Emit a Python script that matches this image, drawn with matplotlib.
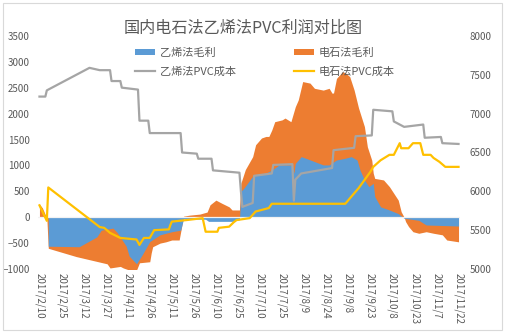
import matplotlib
matplotlib.use("Agg")
import matplotlib.pyplot as plt
import pandas as pd
from matplotlib.patches import Rectangle

plt.rcParams['font.family'] = ['Noto Sans CJK SC', 'DejaVu Sans']

# 乙烯法毛利 (left axis)
eth_profit_dates = ["2017-02-16", "2017-03-09", "2017-03-21", "2017-03-24", "2017-04-01",
                    "2017-04-04", "2017-04-10", "2017-04-12", "2017-04-17", "2017-04-21",
                    "2017-04-26", "2017-05-03", "2017-05-11", "2017-05-17", "2017-05-19",
                    "2017-06-03", "2017-06-05", "2017-06-21", "2017-06-26", "2017-06-27",
                    "2017-06-29", "2017-07-05", "2017-07-14", "2017-07-18", "2017-07-23",
                    "2017-08-01", "2017-08-02", "2017-08-03", "2017-08-07", "2017-08-10",
                    "2017-08-16", "2017-08-22", "2017-08-26", "2017-08-31", "2017-09-06",
                    "2017-09-10", "2017-09-14", "2017-09-16", "2017-09-19", "2017-09-22",
                    "2017-09-25", "2017-09-26", "2017-09-30", "2017-10-06", "2017-10-12",
                    "2017-10-16", "2017-10-26", "2017-10-31", "2017-11-22"]
eth_profit = [-560, -570, -380, -250, -210,
              -300, -560, -750, -900, -720,
              -470, -340, -280, -250, -30,
              -40, -80, -80, -50, 500,
              560, 790, 850, 910, 1010,
              1010, 850, 1040, 1170, 1140,
              1075, 1010, 1010, 1105, 1140,
              1170, 1105, 910, 720, 590,
              655, 400, 200, 140, 70,
              -20, -60, -150, -170]

# 电石法毛利 (left axis)
carb_profit_dates = ["2017-02-10", "2017-02-12", "2017-02-15", "2017-02-16", "2017-03-07",
                     "2017-03-28", "2017-03-30", "2017-04-06", "2017-04-08", "2017-04-12",
                     "2017-04-17", "2017-04-19", "2017-04-26", "2017-04-27", "2017-04-28",
                     "2017-05-03", "2017-05-07", "2017-05-11", "2017-05-16", "2017-05-19",
                     "2017-05-23", "2017-05-30", "2017-06-04", "2017-06-06", "2017-06-10",
                     "2017-06-14", "2017-06-19", "2017-06-21", "2017-06-26", "2017-06-27",
                     "2017-06-30", "2017-07-05", "2017-07-07", "2017-07-11", "2017-07-14",
                     "2017-07-16", "2017-07-18", "2017-07-20", "2017-07-25", "2017-07-27",
                     "2017-07-31", "2017-08-03", "2017-08-05", "2017-08-08", "2017-08-13",
                     "2017-08-16", "2017-08-22", "2017-08-26", "2017-08-28", "2017-08-29",
                     "2017-08-31", "2017-09-04", "2017-09-06", "2017-09-09", "2017-09-12",
                     "2017-09-15", "2017-09-19", "2017-09-21", "2017-09-24", "2017-09-25",
                     "2017-09-26", "2017-10-02", "2017-10-04", "2017-10-06", "2017-10-09",
                     "2017-10-12", "2017-10-14", "2017-10-16", "2017-10-17", "2017-10-19",
                     "2017-10-22", "2017-10-26", "2017-10-31", "2017-11-05", "2017-11-11",
                     "2017-11-14", "2017-11-22"]
carb_profit = [250, 180, -20, -600, -760,
               -900, -980, -950, -980, -1020,
               -1020, -880, -860, -690, -570,
               -500, -475, -440, -440, 20,
               40, 60, 100, 240, 330,
               270, 200, 140, 140, 660,
               920, 1170, 1400, 1530, 1560,
               1560, 1685, 1845, 1880, 1915,
               1845, 2135, 2265, 2620, 2590,
               2490, 2455, 2490, 2395, 2400,
               2680, 2810, 2790, 2715, 2455,
               2110, 1750, 1360, 1100, 850,
               750, 720, 655, 590, 460,
               330, 105, 0, -85, -180,
               -280, -310, -280, -310, -340,
               -440, -475]

# 乙烯法PVC成本 (right axis)
eth_cost_dates = ["2017-02-10", "2017-02-14", "2017-02-15", "2017-03-16", "2017-03-23",
                  "2017-03-30", "2017-03-31", "2017-04-06", "2017-04-07", "2017-04-18",
                  "2017-04-19", "2017-04-25", "2017-04-26", "2017-05-17", "2017-05-18",
                  "2017-05-28", "2017-05-29", "2017-06-07", "2017-06-08", "2017-06-26",
                  "2017-06-27", "2017-06-28", "2017-07-05", "2017-07-06", "2017-07-18",
                  "2017-07-19", "2017-08-01", "2017-08-02", "2017-08-03", "2017-08-07",
                  "2017-08-16", "2017-08-28", "2017-08-29", "2017-09-12", "2017-09-13",
                  "2017-09-24", "2017-09-25", "2017-10-08", "2017-10-09", "2017-10-16",
                  "2017-10-29", "2017-10-30", "2017-11-10", "2017-11-11", "2017-11-22"]
eth_cost = [7220, 7220, 7300, 7590, 7560,
            7560, 7420, 7420, 7335, 7310,
            6910, 6910, 6750, 6750, 6500,
            6485, 6420, 6420, 6270, 6240,
            6000, 5800, 5850, 6200, 6230,
            6340, 6350, 5880, 6150, 6230,
            6260, 6300, 6530, 6560, 6710,
            6720, 7050, 7030, 6900, 6830,
            6860, 6690, 6700, 6620, 6610]

# 电石法PVC成本 (right axis)
carb_cost_dates = ["2017-02-10", "2017-02-15", "2017-02-16", "2017-03-23", "2017-03-26",
                   "2017-03-30", "2017-04-06", "2017-04-17", "2017-04-19", "2017-04-22",
                   "2017-04-26", "2017-04-29", "2017-05-09", "2017-05-10", "2017-05-11",
                   "2017-05-21", "2017-06-01", "2017-06-03", "2017-06-11", "2017-06-12",
                   "2017-06-19", "2017-06-22", "2017-06-24", "2017-07-03", "2017-07-07",
                   "2017-07-16", "2017-07-18", "2017-09-06", "2017-09-10", "2017-09-15",
                   "2017-09-19", "2017-09-23", "2017-09-25", "2017-09-30", "2017-10-06",
                   "2017-10-09", "2017-10-13", "2017-10-14", "2017-10-19", "2017-10-22",
                   "2017-10-27", "2017-10-29", "2017-11-03", "2017-11-05", "2017-11-09",
                   "2017-11-13", "2017-11-22"]
carb_cost = [5820, 5620, 6050, 5540, 5530,
             5465, 5400, 5380, 5310, 5400,
             5400, 5500, 5510, 5565, 5610,
             5630, 5655, 5480, 5480, 5530,
             5545, 5600, 5630, 5655, 5740,
             5785, 5840, 5840, 5930, 6040,
             6145, 6250, 6315, 6400, 6470,
             6470, 6620, 6555, 6555, 6620,
             6620, 6470, 6470, 6430, 6380,
             6315, 6315]

tick_labels = ["2017/2/10", "2017/2/25", "2017/3/12", "2017/3/27", "2017/4/11",
               "2017/4/26", "2017/5/11", "2017/5/26", "2017/6/10", "2017/6/25",
               "2017/7/10", "2017/7/25", "2017/8/9", "2017/8/24", "2017/9/8",
               "2017/9/23", "2017/10/8", "2017/10/23", "2017/11/7", "2017/11/22"]
left_ticks = [-1000, -500, 0, 500, 1000, 1500, 2000, 2500, 3000, 3500]
right_ticks = [5000, 5500, 6000, 6500, 7000, 7500, 8000]

BLUE = '#5B9BD5'
ORANGE = '#ED7D31'
GRAY = '#A5A5A5'
YELLOW = '#FFC000'
TEXT = '#595959'

fig = plt.figure(figsize=(5.07, 3.33), dpi=100)
ax = fig.add_axes([38 / 507, 1 - 269 / 333, 422 / 507, 233 / 333])
ax2 = ax.twinx()

orange_fill = ax.fill_between(pd.to_datetime(carb_profit_dates), 0, carb_profit,
                              color=ORANGE, lw=0, zorder=1, label='电石法毛利')
blue_fill = ax.fill_between(pd.to_datetime(eth_profit_dates), 0, eth_profit,
                            color=BLUE, lw=0, zorder=2, label='乙烯法毛利')
ax.axhline(0, color='#f2f2f2', lw=0.9, zorder=3)

gray_line, = ax2.plot(pd.to_datetime(eth_cost_dates), eth_cost, color=GRAY, lw=1.6,
                      label='乙烯法PVC成本')
yellow_line, = ax2.plot(pd.to_datetime(carb_cost_dates), carb_cost, color=YELLOW, lw=1.6,
                        label='电石法PVC成本')

ax.set_xlim(pd.Timestamp("2017-02-09"), pd.Timestamp("2017-11-23"))
ax.set_ylim(-1000, 3500)
ax2.set_ylim(5000, 8000)
ax.set_yticks(left_ticks)
ax2.set_yticks(right_ticks)
ax.set_xticks(pd.to_datetime(tick_labels, format="%Y/%m/%d"))
ax.set_xticklabels(tick_labels, rotation=270, ha='center', va='top')

for a in (ax, ax2):
    for s in a.spines.values():
        s.set_visible(False)
    a.tick_params(length=0, labelsize=7, colors=TEXT)
ax.tick_params(axis='y', pad=6)
ax2.tick_params(axis='y', pad=7)
ax.tick_params(axis='x', pad=3)

fig.text(243 / 507, 1 - 28 / 333, '国内电石法乙烯法PVC利润对比图', ha='center', va='center',
         fontsize=11.6, color=TEXT)

fig.legend([blue_fill, gray_line, orange_fill, yellow_line],
           ['乙烯法毛利', '乙烯法PVC成本', '电石法毛利', '电石法PVC成本'],
           ncol=2, loc='upper left', bbox_to_anchor=(135 / 507, 1 - 48 / 333),
           frameon=False, fontsize=8, labelcolor=TEXT, handlelength=1.8,
           handleheight=0.5, handletextpad=0.45, columnspacing=5.2,
           labelspacing=0.75, borderpad=0, borderaxespad=0)

fig.add_artist(Rectangle((3 / 507, 3 / 333), 499 / 507, 327 / 333, transform=fig.transFigure,
                         fill=False, ec='#d9d9d9', lw=0.8))

fig.savefig('out.png', dpi=100)
